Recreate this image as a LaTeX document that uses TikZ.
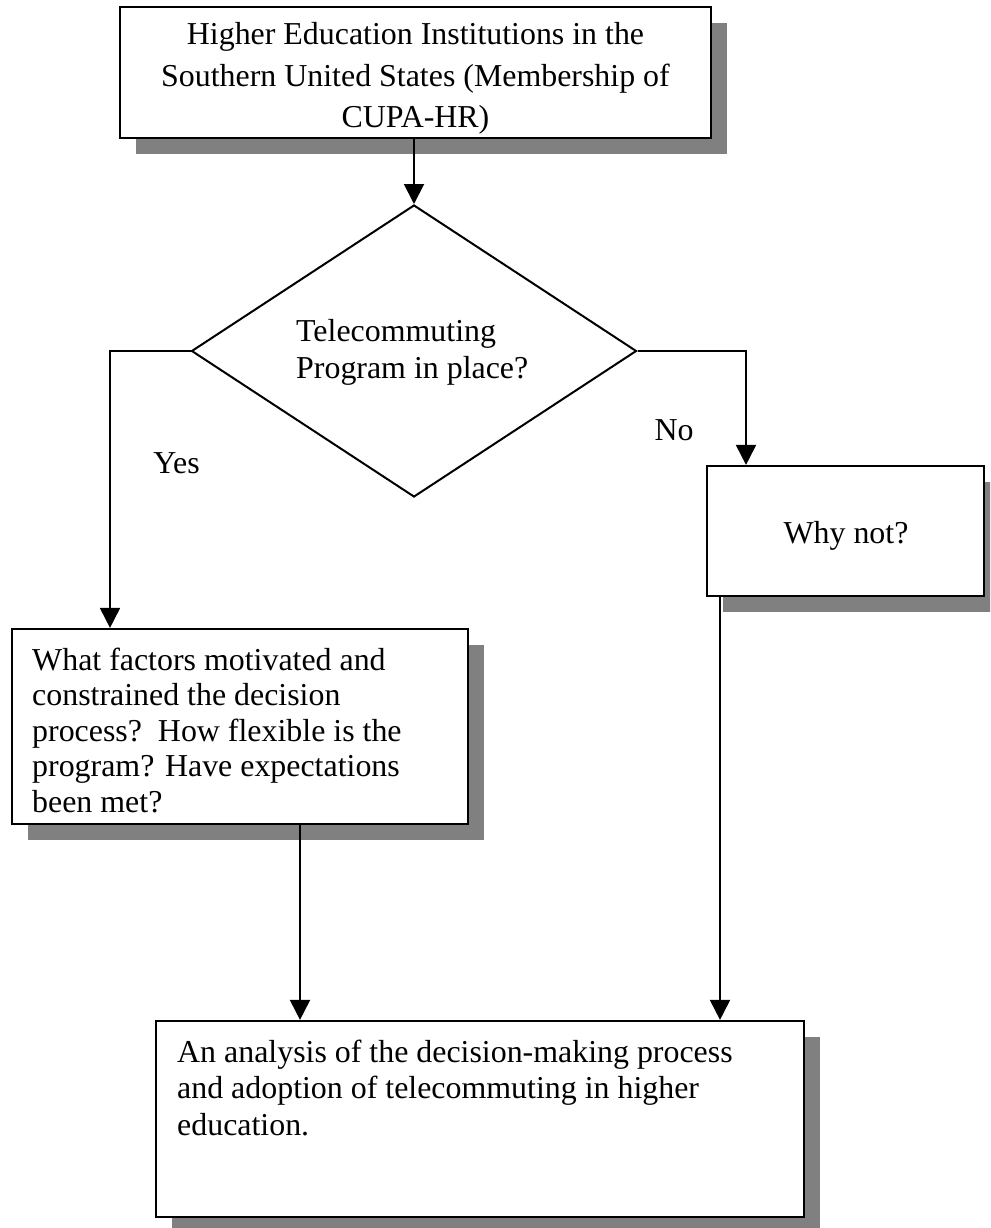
\documentclass[tikz,border=0pt]{standalone}
\usepackage{fontspec}
\setmainfont{Liberation Serif}
\usetikzlibrary{shapes.geometric,shadows,arrows.meta}
\definecolor{shade}{HTML}{808080}
\begin{document}
\begin{tikzpicture}[x=1pt,y=-1pt,
  box/.style={draw, line width=2.2pt, fill=white, rectangle, inner sep=0pt,
    general shadow={fill=shade, shadow xshift=16pt, shadow yshift=-16pt}},
  conn/.style={line width=2pt, -{Triangle[length=20pt,width=20pt]}},
  txt/.style={inner sep=0pt, font=\fontsize{31.9}{35.5}\selectfont},
]
\clip (0,0) rectangle (990,1228);
\fill[white] (0,0) rectangle (990,1228);

% boxes
\node[box, minimum width=591pt, minimum height=131pt] (top) at (415.5,72.5) {};
\node[draw, line width=2pt, shape=diamond, inner sep=0pt, aspect=1.524,
      minimum width=445pt, minimum height=292pt] (dec) at (414,351) {};
\node[box, minimum width=277pt, minimum height=130pt] (why) at (845.5,531) {};
\node[box, minimum width=456pt, minimum height=195pt] (fac) at (240,726.5) {};
\node[box, minimum width=648pt, minimum height=196pt] (ana) at (480,1119) {};

% texts (base anchor of a multi-line node = last line's baseline)
\node[txt, font=\fontsize{31.9}{41.5}\selectfont, align=center, anchor=base] (toptext) at (415.5,128)
  {Higher Education Institutions in the\\Southern United States (Membership of\\CUPA-HR)};
\node[txt, font=\fontsize{31.9}{37}\selectfont, align=left, anchor=base west] (dectext) at (296,378)
  {Telecommuting\\Program in place?};
\node[txt, anchor=base] (whytext) at (846,543) {Why not?};
\node[txt, anchor=base] (yes) at (176.5,473) {Yes};
\node[txt, anchor=base] (no) at (674,440) {No};
\begin{scope}
  \clip (12,629) rectangle (468,816);
  \node[txt, align=left, anchor=base west] (factext) at (32,812)
    {What factors motivated and\\constrained the decision\\process?\ \ How flexible is the\\program? Have expectations\\been met?};
\end{scope}
\node[txt, font=\fontsize{31.9}{36.5}\selectfont, align=left, anchor=base west] (anatext) at (177,1135)
  {An analysis of the decision-making process\\and adoption of telecommuting in higher\\education.};

% connectors
\coordinate (ax) at (414,0);
\coordinate (yesbend) at (110,351);
\coordinate (nobend) at (746,351);
\coordinate (c1) at (300,0);
\coordinate (c2) at (720,0);
\draw[conn] (top.south -| ax) -- (dec.north);
\draw[conn] (dec.west) -- (yesbend) -- (yesbend |- fac.north);
\draw[conn] (dec.east) -- (nobend) -- (nobend |- why.north);
\draw[conn] (fac.south -| c1) -- (ana.north -| c1);
\draw[conn] (why.south -| c2) -- (ana.north -| c2);
\end{tikzpicture}
\end{document}
